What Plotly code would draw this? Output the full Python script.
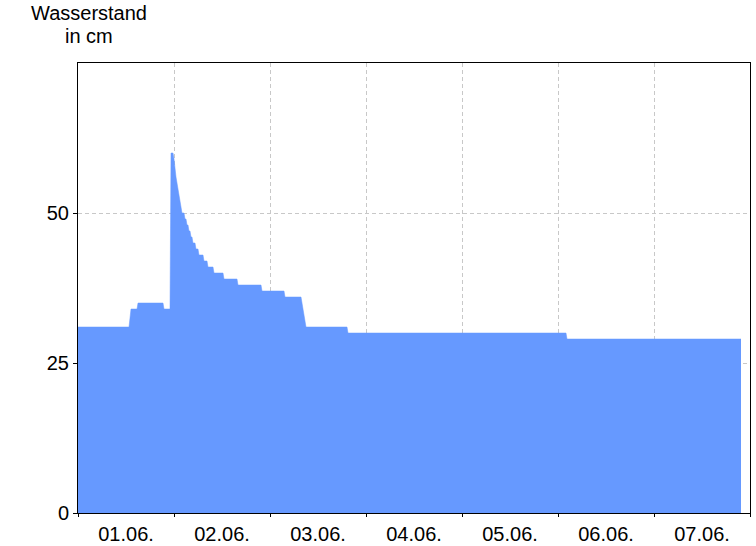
import plotly.graph_objects as go

# Breakpoints of the water level series (timestamp, level in cm)
times = [
    "2024-06-01 00:00", "2024-06-01 12:45", "2024-06-01 13:15", "2024-06-01 14:45",
    "2024-06-01 15:00", "2024-06-01 21:15", "2024-06-01 21:30", "2024-06-01 23:00",
    "2024-06-01 23:15", "2024-06-01 23:45",
    "2024-06-02 00:00", "2024-06-02 00:15", "2024-06-02 00:30", "2024-06-02 00:45",
    "2024-06-02 01:00", "2024-06-02 01:15", "2024-06-02 01:30", "2024-06-02 01:45",
    "2024-06-02 02:00", "2024-06-02 02:30", "2024-06-02 02:45", "2024-06-02 03:00",
    "2024-06-02 03:15", "2024-06-02 03:30", "2024-06-02 03:45", "2024-06-02 04:00",
    "2024-06-02 04:15", "2024-06-02 04:30", "2024-06-02 04:45", "2024-06-02 05:15",
    "2024-06-02 05:30", "2024-06-02 06:00", "2024-06-02 06:15", "2024-06-02 07:15",
    "2024-06-02 07:30", "2024-06-02 08:15", "2024-06-02 08:30", "2024-06-02 09:45",
    "2024-06-02 10:00", "2024-06-02 12:15", "2024-06-02 12:30", "2024-06-02 15:45",
    "2024-06-02 16:00", "2024-06-02 21:45", "2024-06-02 22:00",
    "2024-06-03 03:30", "2024-06-03 03:45", "2024-06-03 07:45", "2024-06-03 08:00",
    "2024-06-03 08:15", "2024-06-03 08:30", "2024-06-03 08:45", "2024-06-03 09:00",
    "2024-06-03 19:15", "2024-06-03 19:30",
    "2024-06-06 02:00", "2024-06-06 02:15", "2024-06-07 21:45",
]
levels = [
    31, 31, 34, 34,
    35, 35, 34, 34,
    60, 60,
    59, 57, 56, 55,
    54, 53, 52, 51,
    50, 50, 49, 49,
    48, 48, 47, 47,
    46, 46, 45, 45,
    44, 44, 43, 43,
    42, 42, 41, 41,
    40, 40, 39, 39,
    38, 38, 37,
    37, 36, 36, 35,
    34, 33, 32, 31,
    31, 30,
    30, 29, 29,
]

y_ticks = [0, 25, 50]
x_range = ["2024-06-01 00:00", "2024-06-08 00:00"]
y_range = [0, 75]
title_lines = ["Wasserstand", "in cm"]

FILL = "#6699ff"
GRID = "#c8c8c8"
FONT = "Liberation Sans, Arial, sans-serif"

fig = go.Figure(
    go.Scatter(
        x=times, y=levels, mode="lines", fill="tozeroy",
        line=dict(color=FILL, width=0.5), fillcolor=FILL,
        hoverinfo="x+y",
    )
)

fig.update_layout(
    width=756, height=546,
    margin=dict(l=78, r=6, t=63, b=33, autoexpand=False),
    paper_bgcolor="white", plot_bgcolor="white",
    showlegend=False,
    font=dict(family=FONT, size=20, color="black"),
)

fig.update_xaxes(
    type="date", range=x_range, automargin=False,
    tick0="2024-06-01", dtick=86400000, tickformat="%d.%m.",
    ticklabelmode="period", tickfont=dict(size=20),
    showgrid=True, gridcolor=GRID, griddash="4px,3px", gridwidth=1,
    showline=True, linecolor="black", linewidth=1, mirror=True,
    ticks="outside", ticklen=3, tickcolor="black",
    layer="above traces",
)
fig.update_yaxes(
    range=y_range, tickvals=y_ticks, automargin=False,
    showgrid=True, gridcolor=GRID, griddash="4px,3px", gridwidth=1,
    showline=True, linecolor="black", linewidth=1, mirror=True,
    ticks="outside", ticklen=4, tickcolor="black",
    zeroline=False, layer="above traces",
)

for text, cx, cy in zip(title_lines, [89, 88.5], [13.5, 36]):
    fig.add_annotation(
        text=text, xref="paper", yref="paper",
        x=(cx - 78) / 672, y=1 + (63 - cy) / 450,
        xanchor="center", yanchor="middle",
        showarrow=False, align="center", borderpad=0,
        font=dict(family=FONT, size=20, color="black"),
    )

# remove the browser's default 8px body margin so the figure fills the window
fig.write_html(
    "out.html",
    config={"displayModeBar": False},
    post_script="document.body.style.margin='0';document.body.style.overflow='hidden';",
)
